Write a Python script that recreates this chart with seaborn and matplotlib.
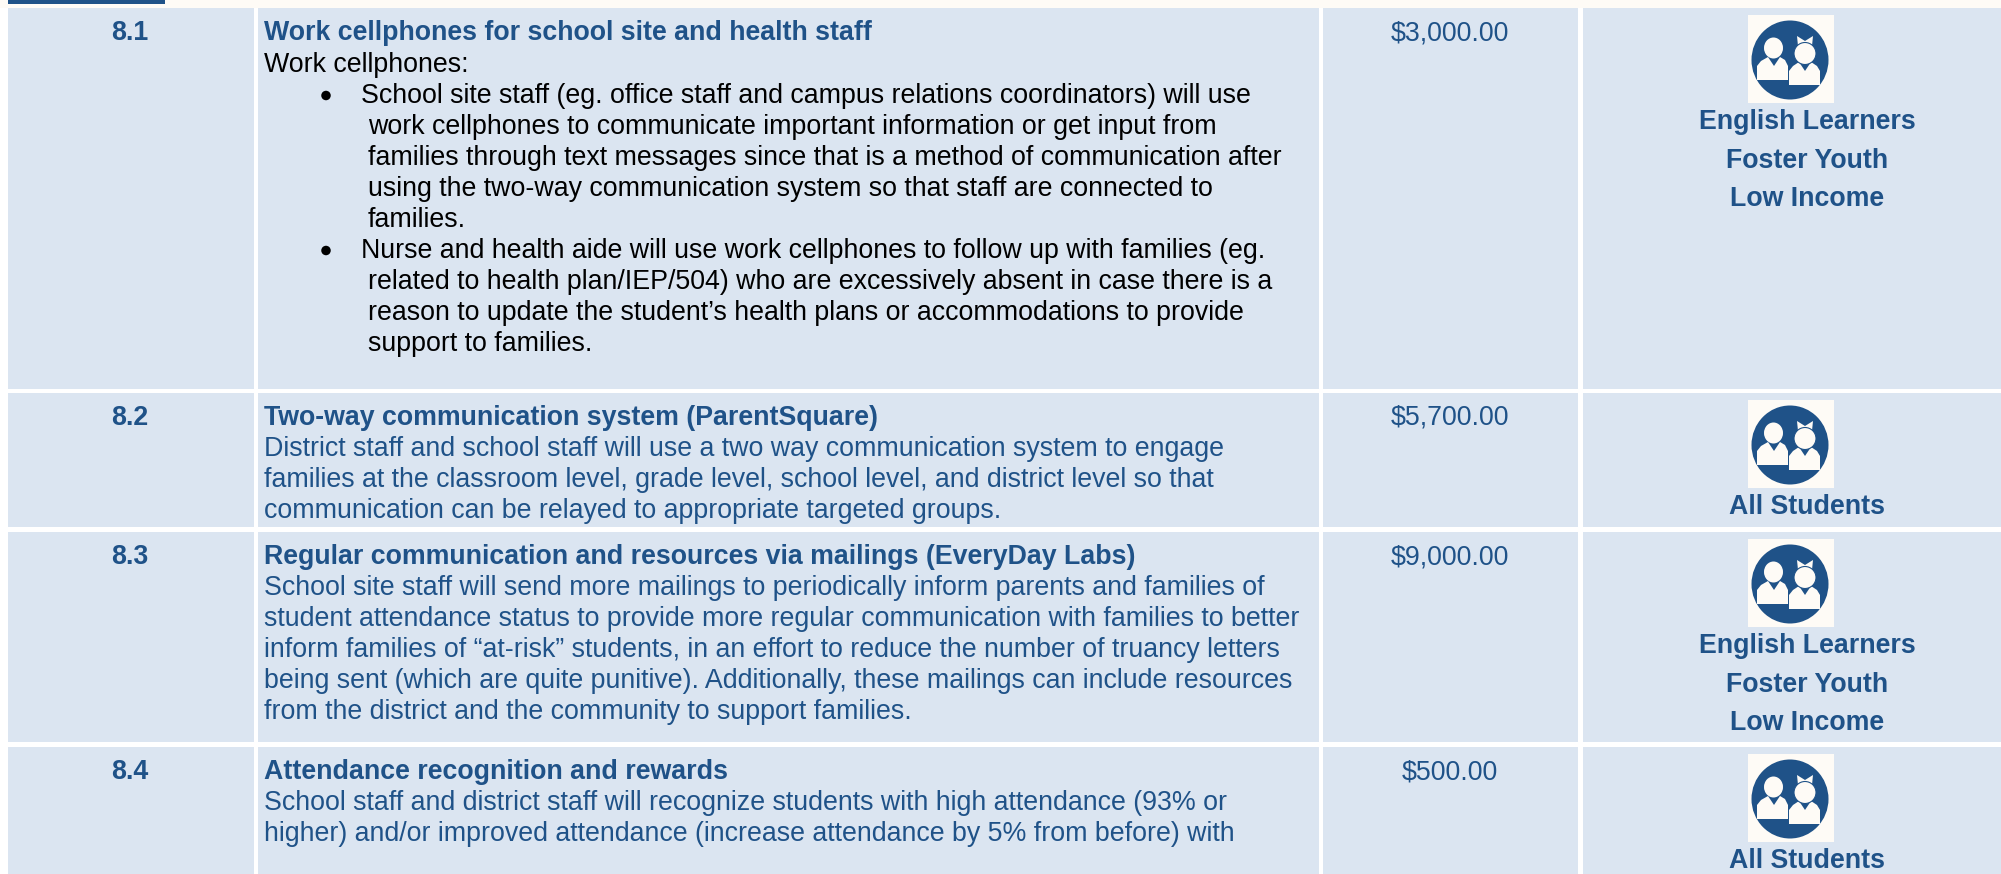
import numpy as np
import seaborn as sns
import matplotlib.pyplot as plt
from matplotlib.colors import ListedColormap
from matplotlib.patches import Rectangle, Ellipse, Polygon

W, H = 2001, 874
CELL = '#DBE5F1'
BLUE = '#1F5288'
CREAM = '#FEFBF6'
FS = 19.3

# table grid in pixels
col_edges = [(8, 254), (258, 1319), (1323, 1578), (1583, 2001)]
row_edges = [(8, 389), (393, 527), (532, 742), (747, 874)]

action_ids = ['8.1', '8.2', '8.3', '8.4']
action_titles = [
    'Work cellphones for school site and health staff',
    'Two-way communication system (ParentSquare)',
    'Regular communication and resources via mailings (EveryDay Labs)',
    'Attendance recognition and rewards',
]
amounts = ['$3,000.00', '$5,700.00', '$9,000.00', '$500.00']
groups = [
    ['English Learners', 'Foster Youth', 'Low Income'],
    ['All Students'],
    ['English Learners', 'Foster Youth', 'Low Income'],
    ['All Students'],
]
body_81 = [
    ('Work cellphones:', 0),
    ('School site staff (eg. office staff and campus relations coordinators) will use', 1),
    ('work cellphones to communicate important information or get input from', 2),
    ('families through text messages since that is a method of communication after', 2),
    ('using the two-way communication system so that staff are connected to', 2),
    ('families.', 2),
    ('Nurse and health aide will use work cellphones to follow up with families (eg.', 1),
    ('related to health plan/IEP/504) who are excessively absent in case there is a', 2),
    ('reason to update the student’s health plans or accommodations to provide', 2),
    ('support to families.', 2),
]
body_82 = [
    'District staff and school staff will use a two way communication system to engage',
    'families at the classroom level, grade level, school level, and district level so that',
    'communication can be relayed to appropriate targeted groups.',
]
body_83 = [
    'School site staff will send more mailings to periodically inform parents and families of',
    'student attendance status to provide more regular communication with families to better',
    'inform families of “at-risk” students, in an effort to reduce the number of truancy letters',
    'being sent (which are quite punitive). Additionally, these mailings can include resources',
    'from the district and the community to support families.',
]
body_84 = [
    'School staff and district staff will recognize students with high attendance (93% or',
    'higher) and/or improved attendance (increase attendance by 5% from before) with',
]

sns.set_theme(style='white')
plt.rcParams['font.family'] = ['Liberation Sans', 'DejaVu Sans']

fig = plt.figure(figsize=(W / 100, H / 100), dpi=100, facecolor='white')

# each table cell is a one value heatmap
for (y0, y1) in row_edges:
    for (x0, x1) in col_edges:
        cell_ax = fig.add_axes([x0 / W, 1 - y1 / H, (x1 - x0) / W, (y1 - y0) / H])
        sns.heatmap(np.array([[1.0]]), ax=cell_ax, cmap=ListedColormap([CELL]),
                    cbar=False, xticklabels=False, yticklabels=False)

ax = fig.add_axes([0, 0, 1, 1], facecolor='none')
ax.set_xlim(0, W)
ax.set_ylim(H, 0)
ax.axis('off')

# strip at the top of the page
ax.add_patch(Rectangle((0, 0), W, 8, fc=CREAM, ec='none'))
ax.add_patch(Rectangle((8, 0), 157, 4, fc=BLUE, ec='none'))


def put(x, y, s, color=BLUE, weight='normal', ha='left'):
    ax.text(x, y + 9, s, color=color, fontsize=FS, fontweight=weight, ha=ha, va='baseline')


def shape(cx, cy, pts, fc):
    ax.add_patch(Polygon([(cx + a, cy + b) for a, b in pts], fc=fc, ec='none'))


def icon(top):
    cx, cy = 1790, top + 52
    ax.add_patch(Rectangle((cx - 42, top + 7), 86, 88, fc=CREAM, ec='none'))
    ax.add_patch(Ellipse((cx, cy), 77, 79, fc=BLUE, ec='none'))
    # left figure
    shape(cx, cy, [(-33, 20), (-33, 6), (-29, 1), (-22, -3), (-16, 6), (-10, -3),
                   (-5, 0), (-2, 6), (-2, 20)], CREAM)
    ax.add_patch(Ellipse((cx - 16.5, cy - 12), 19, 21, fc=CREAM, ec='none'))
    # right figure with bow
    shape(cx, cy, [(-1, 25), (-1, 11), (3, 6), (9, 2), (15, 11), (21, 2),
                   (27, 6), (30, 11), (30, 25)], CREAM)
    shape(cx, cy, [(7, -24), (15, -19), (23, -24), (22, -14), (15, -16), (8, -14)], CREAM)
    ax.add_patch(Ellipse((cx + 15, cy - 6.5), 22, 22, fc=CREAM, ec=BLUE, lw=0.8))


TEXT_X, BULLET_X, HANG_X, WRAP_X = 264, 326, 361, 368
LINE = 31

for i, (y0, y1) in enumerate(row_edges):
    ty = y0 + 23
    put(129.5, ty, action_ids[i], weight='bold', ha='center')
    put(TEXT_X, ty, action_titles[i], weight='bold')
    put(1450, ty, amounts[i], ha='center')
    icon(y0)
    for j, g in enumerate(groups[i]):
        put(1807, y0 + 112 + j * 38.5, g, weight='bold', ha='center')

for j, (line, level) in enumerate(body_81):
    y = row_edges[0][0] + 24 + LINE * (j + 1)
    x = {0: TEXT_X, 1: HANG_X, 2: WRAP_X}[level]
    put(x, y, line, color='black')
    if level == 1:
        ax.add_patch(Ellipse((BULLET_X, y + 1.5), 9.5, 9.5, fc='black', ec='none'))

for body, row in ((body_82, 1), (body_83, 2), (body_84, 3)):
    for j, line in enumerate(body):
        put(TEXT_X, row_edges[row][0] + 23 + LINE * (j + 1), line)

fig.savefig('out.png', dpi=100)
